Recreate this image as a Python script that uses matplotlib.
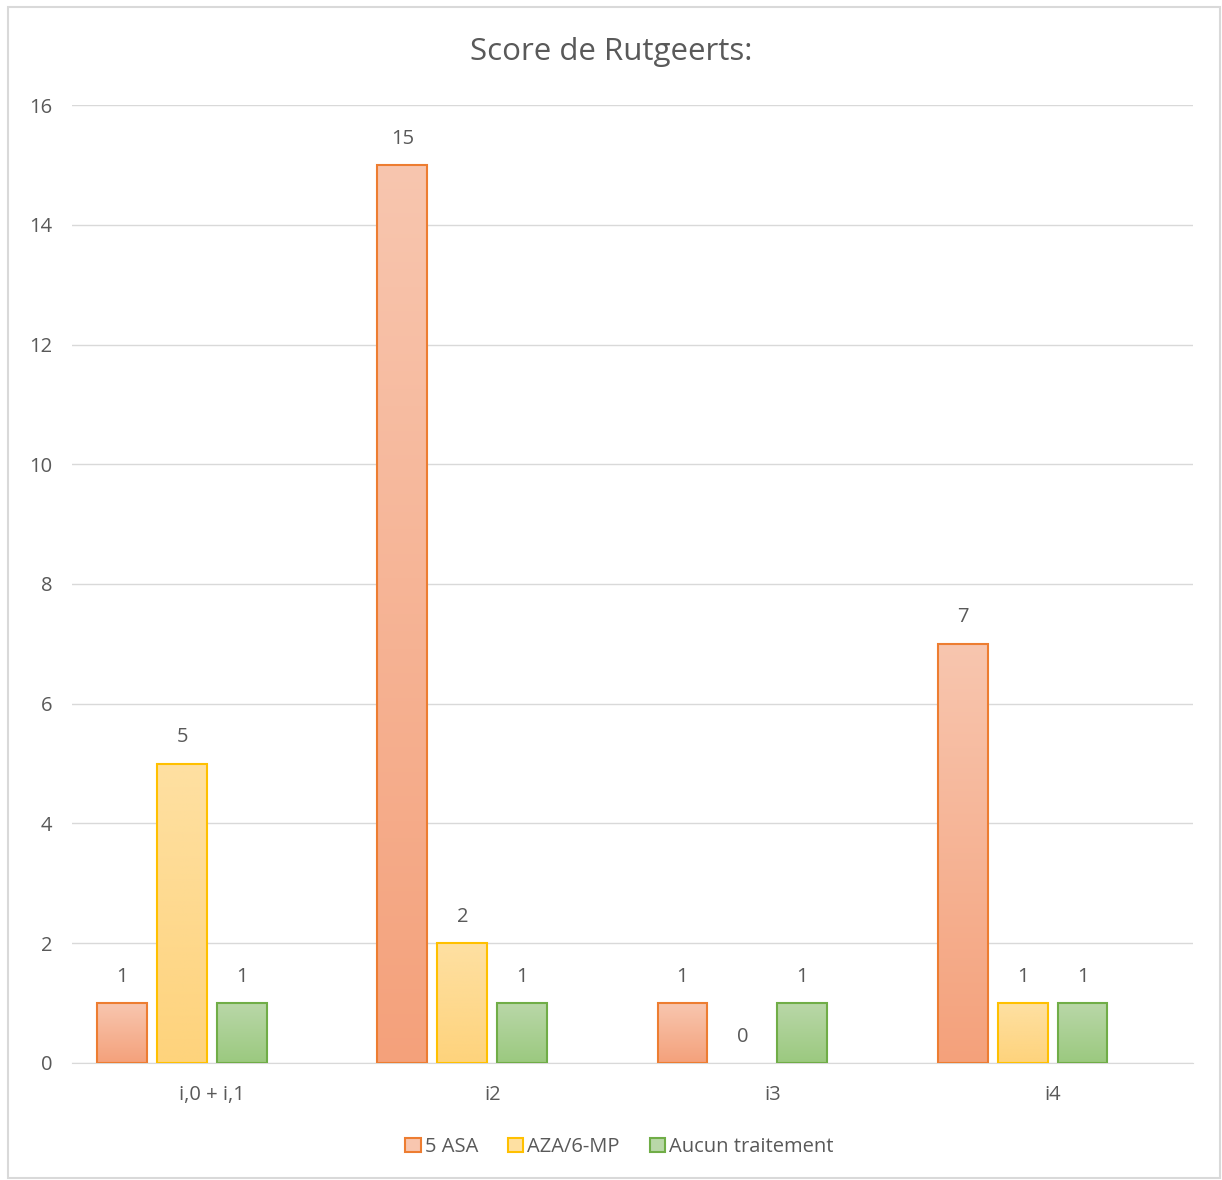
import numpy as np
import matplotlib
matplotlib.use('Agg')
import matplotlib.pyplot as plt
from matplotlib.colors import LinearSegmentedColormap
from matplotlib.patches import Rectangle, Patch

plt.rcParams['font.family'] = ['Open Sans', 'DejaVu Sans']

categories = ['i,0 + i,1', 'i2', 'i3', 'i4']
series_names = ['5 ASA', 'AZA/6-MP', 'Aucun traitement']
asa = [1, 15, 1, 7]
aza = [5, 2, 0, 1]
aucun = [1, 1, 1, 1]

values = [asa, aza, aucun]
edge_colors = ['#ED7D31', '#FFC000', '#70AD47']
top_colors = ['#F8C6AF', '#FEE0A2', '#B9D7A8']
bottom_colors = ['#F4A17B', '#FED37C', '#9BC97F']
text_color = '#595959'

fig = plt.figure(figsize=(12.22, 11.80), dpi=100)
ax = fig.add_axes([0.0589, 0.0992, 0.9171, 0.8118])

# cadre du graphique
fig.patches.append(Rectangle((8 / 1222, 2 / 1180), 1212 / 1222, 1171 / 1180,
                             transform=fig.transFigure, fill=False,
                             edgecolor='#D9D9D9', linewidth=1.5))

x = np.arange(len(categories))
width = 0.178
offset = 0.214

grad = np.linspace(0, 1, 256).reshape(-1, 1)
for i, vals in enumerate(values):
    cmap = LinearSegmentedColormap.from_list('g%d' % i, [bottom_colors[i], top_colors[i]])
    # 4 emplacements par groupe (le dernier vide, comme dans Excel)
    pos = x + (i - 1.5) * offset
    bars = ax.bar(pos, vals, width, facecolor='none', edgecolor=edge_colors[i],
                  linewidth=1.5, zorder=3)
    for b, v in zip(bars, vals):
        if v > 0:
            im = ax.imshow(grad, cmap=cmap, origin='lower', aspect='auto',
                           extent=[b.get_x(), b.get_x() + b.get_width(), 0, v],
                           zorder=2)
            im.set_clip_path(b)
        else:
            b.set_visible(False)
        ax.annotate(str(v), (b.get_x() + b.get_width() / 2, v),
                    xytext=(0, 19), textcoords='offset points',
                    ha='center', va='center', fontsize=14.5, color=text_color)

ax.set_xlim(-0.5, 3.5)
ax.set_ylim(0, 16)
ax.set_yticks(range(0, 17, 2))
ax.set_xticks(x)
ax.set_xticklabels(categories)
ax.grid(axis='y', color='#D9D9D9', linewidth=1)
ax.set_axisbelow(True)
for s in ['top', 'right', 'left']:
    ax.spines[s].set_visible(False)
ax.spines['bottom'].set_color('#D9D9D9')
ax.tick_params(axis='both', length=0, labelsize=14.5, labelcolor=text_color)
ax.tick_params(axis='y', pad=14)
ax.tick_params(axis='x', pad=16)

fig.text(0.5, 1 - 52 / 1180, 'Score de Rutgeerts:', ha='center', va='center',
         fontsize=22.5, color=text_color)

handles = [Patch(facecolor=top_colors[i], edgecolor=edge_colors[i], linewidth=1.5,
                 label=series_names[i]) for i in range(3)]
fig.legend(handles=handles, loc='center', bbox_to_anchor=(0.507, 1 - 1147 / 1180),
           ncol=3, frameon=False, fontsize=14.5, handlelength=0.75, handleheight=0.75,
           handletextpad=0.2, columnspacing=1.5, labelcolor=text_color)

fig.savefig('out.png', dpi=100)
